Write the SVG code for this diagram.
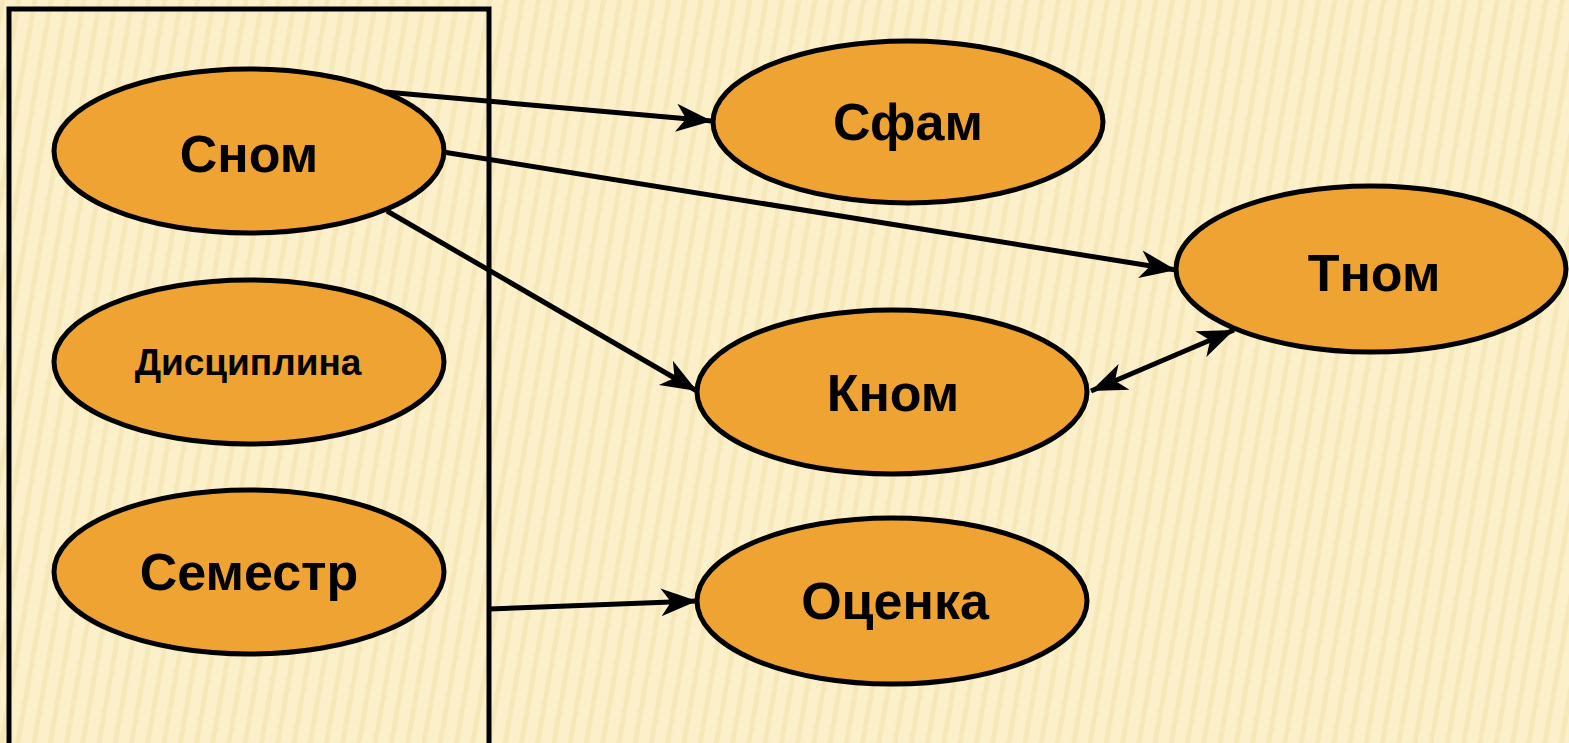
<svg xmlns="http://www.w3.org/2000/svg" width="1569" height="743" viewBox="0 0 1569 743">
<style>
.node ellipse{fill:#EFA332;stroke:#000;stroke-width:5}
.node text{font-family:"Liberation Sans",Arial,sans-serif;font-weight:bold;font-size:52px;fill:#000;text-anchor:middle}
.conn line{stroke:#000;stroke-width:5;fill:none}
</style>
<defs>
<pattern id="stripes" width="16" height="40" patternUnits="userSpaceOnUse" patternTransform="rotate(10)">
<rect width="16" height="40" fill="#FCF0CA"/>
<rect x="0" width="5" height="40" fill="#F4E2AE" opacity="0.6"/>
</pattern>
<marker id="ah" markerUnits="userSpaceOnUse" markerWidth="40" markerHeight="32" viewBox="0 -16 40 32" refX="36" refY="0" orient="auto-start-reverse">
<path d="M0,-14 L36,0 L0,14 L10,0 z" fill="#000"/>
</marker>
</defs>
<rect width="1569" height="743" fill="url(#stripes)"/>
<rect x="9" y="9" width="480" height="745" fill="none" stroke="#000" stroke-width="5"/>
<g class="conn">
<line x1="385" y1="92" x2="712" y2="121" marker-end="url(#ah)"/>
<line x1="443" y1="152" x2="1176" y2="270" marker-end="url(#ah)"/>
<line x1="387" y1="211" x2="697" y2="391" marker-end="url(#ah)"/>
<line x1="1091" y1="391" x2="1234" y2="330" marker-start="url(#ah)" marker-end="url(#ah)"/>
<line x1="489" y1="609" x2="697" y2="601" marker-end="url(#ah)"/>
</g>
<g id="snom" class="node"><ellipse cx="249" cy="151" rx="195" ry="82"/><text x="249" y="172">Сном</text></g>
<g id="disciplina" class="node"><ellipse cx="249" cy="362" rx="195" ry="82"/><text x="248" y="375" style="font-size:37px">Дисциплина</text></g>
<g id="semestr" class="node"><ellipse cx="249" cy="572" rx="195" ry="82"/><text x="249" y="590">Семестр</text></g>
<g id="sfam" class="node"><ellipse cx="908" cy="122" rx="195" ry="81"/><text x="908" y="140">Сфам</text></g>
<g id="tnom" class="node"><ellipse cx="1371" cy="269" rx="195" ry="83"/><text x="1374" y="291">Тном</text></g>
<g id="knom" class="node"><ellipse cx="892" cy="392" rx="195" ry="82"/><text x="893" y="411">Кном</text></g>
<g id="ocenka" class="node"><ellipse cx="892" cy="601" rx="195" ry="83"/><text x="895" y="619">Оценка</text></g>
</svg>
